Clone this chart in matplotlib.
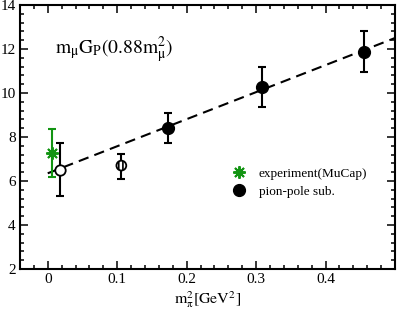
import matplotlib.pyplot as plt
from matplotlib.ticker import MultipleLocator

plt.rcParams['font.family'] = 'serif'
plt.rcParams['font.serif'] = ['Liberation Serif', 'DejaVu Serif']
plt.rcParams['mathtext.fontset'] = 'stix'
plt.rcParams['hatch.linewidth'] = 1.2

# experiment (MuCap)
exp_x = [0.0063]
exp_y = [7.26]
exp_lo = [6.2]
exp_hi = [8.35]

# open circle (physical point)
open_x = [0.0178]
open_y = [6.50]
open_lo = [5.33]
open_hi = [7.71]

# hatched circle
hatch_x = [0.106]
hatch_y = [6.70]
hatch_lo = [6.08]
hatch_hi = [7.23]

# pion-pole subtracted lattice points
pp_x = [0.173, 0.309, 0.456]
pp_y = [8.39, 10.29, 11.88]
pp_lo = [7.71, 9.38, 10.97]
pp_hi = [9.08, 11.17, 12.82]

# linear fit
fit_x = [0.0, 0.5]
fit_y = [6.35, 12.50]

xticks = [0, 0.1, 0.2, 0.3, 0.4]
xtick_labels = ['0', '0.1', '0.2', '0.3', '0.4']
yticks = [2, 4, 6, 8, 10, 12, 14]

GREEN = '#129412'


def err(y, lo, hi):
    return [[a - b for a, b in zip(y, lo)], [b - a for a, b in zip(y, hi)]]


fig = plt.figure(figsize=(3.99, 3.13), dpi=100)
ax = fig.add_axes([0.050, 0.1406, 0.940, 0.8434])

ax.plot(fit_x, fit_y, color='black', lw=1.5, dashes=(5, 3), zorder=1)

ax.errorbar(exp_x, exp_y, yerr=err(exp_y, exp_lo, exp_hi), fmt='none',
            ecolor=GREEN, elinewidth=1.5, capsize=3, capthick=1.5, zorder=2)
ax.plot(exp_x, exp_y, ls='none', marker=(8, 2, 0), ms=9, mew=1.4,
        color=GREEN, label='experiment(MuCap)', zorder=3)

ax.errorbar(open_x, open_y, yerr=err(open_y, open_lo, open_hi), fmt='none',
            ecolor='black', elinewidth=1.5, capsize=3, capthick=1.5, zorder=2)
ax.plot(open_x, open_y, ls='none', marker='o', ms=7.5, mew=1.3,
        mfc='white', mec='black', zorder=3)

ax.errorbar(hatch_x, hatch_y, yerr=err(hatch_y, hatch_lo, hatch_hi), fmt='none',
            ecolor='black', elinewidth=1.5, capsize=3, capthick=1.5, zorder=2)
ax.scatter(hatch_x, hatch_y, s=50, marker='o', facecolor='white',
           edgecolor='black', linewidths=1.3, hatch='||||', zorder=3)

ax.errorbar(pp_x, pp_y, yerr=err(pp_y, pp_lo, pp_hi), fmt='none',
            ecolor='black', elinewidth=1.5, capsize=3, capthick=1.5, zorder=2)
ax.plot(pp_x, pp_y, ls='none', marker='o', ms=8.5, color='black',
        label='pion-pole sub.', zorder=3)

ax.set_xlim(-0.04, 0.5)
ax.set_ylim(2, 14)
ax.set_xticks(xticks)
ax.set_xticklabels(xtick_labels)
ax.set_yticks(yticks)
ax.xaxis.set_minor_locator(MultipleLocator(0.02))
ax.yaxis.set_minor_locator(MultipleLocator(0.4))
ax.tick_params(which='both', direction='in', top=True, right=True,
               labelsize=11, width=1.1, pad=3)
ax.tick_params(which='major', length=5.5)
ax.tick_params(which='minor', length=3)
for s in ax.spines.values():
    s.set_linewidth(1.5)

ax.set_xlabel(r'$\mathrm{m_\pi^2[GeV^2]}$', fontsize=11.5, labelpad=2)
ax.text(0.093, 0.83, r'$\mathrm{m_\mu G_P(0.88m_\mu^2)}$', fontsize=14,
        transform=ax.transAxes, va='center', ha='left')

ax.legend(loc='center left', bbox_to_anchor=(0.567, 0.3265), frameon=False,
          fontsize=9.5, borderpad=0, borderaxespad=0, handlelength=1.0,
          handletextpad=1.0, labelspacing=0.45, markerscale=1.0)

fig.savefig('out.png', dpi=100)
